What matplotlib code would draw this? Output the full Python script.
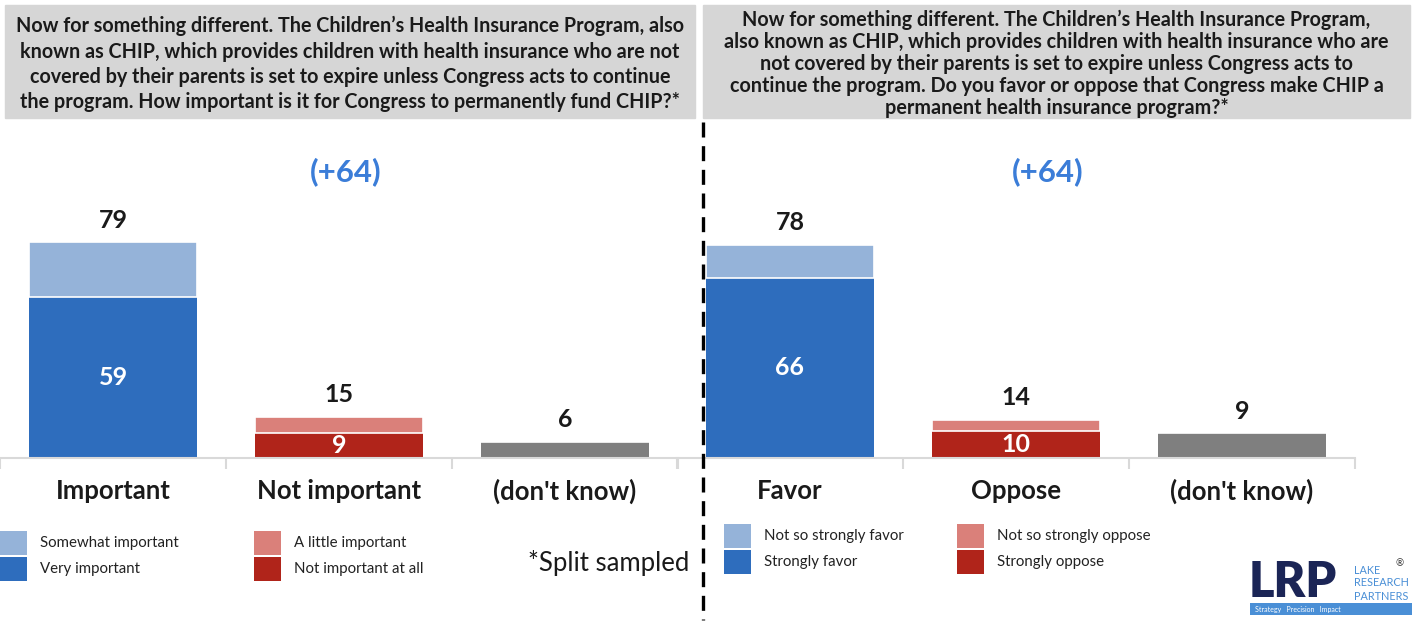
import matplotlib.pyplot as plt
from matplotlib.patches import Rectangle
from matplotlib.lines import Line2D

plt.rcParams['font.family'] = ['Lato', 'DejaVu Sans']

# data
left_categories = ['Important', 'Not important', "(don't know)"]
left_strong = [59, 9, 6]
left_total = [79, 15, 6]
left_net = '(+64)'

right_categories = ['Favor', 'Oppose', "(don't know)"]
right_strong = [66, 10, 9]
right_total = [78, 14, 9]
right_net = '(+64)'

left_question = ("Now for something different. The Children\u2019s Health Insurance Program, also\n"
                 "known as CHIP, which provides children with health insurance who are not\n"
                 "covered by their parents is set to expire unless Congress acts to continue\n"
                 "the program. How important is it for Congress to permanently fund CHIP?*")
right_question = ("Now for something different. The Children\u2019s Health Insurance Program,\n"
                  "also known as CHIP, which provides children with health insurance who are\n"
                  "not covered by their parents is set to expire unless Congress acts to\n"
                  "continue the program. Do you favor or oppose that Congress make CHIP a\n"
                  "permanent health insurance program?*")

left_legend = ['Somewhat important', 'Very important', 'A little important', 'Not important at all']
right_legend = ['Not so strongly favor', 'Strongly favor', 'Not so strongly oppose', 'Strongly oppose']

DARK_BLUE = '#2e6dbd'
LIGHT_BLUE = '#95b3d9'
DARK_RED = '#b0241a'
LIGHT_RED = '#da807a'
GRAY = '#7f7f7f'
NET_BLUE = '#3b7dd8'

W, H = 1424, 636
fig = plt.figure(figsize=(W / 100, H / 100), dpi=100)


def px(x, y):
    return x / W, 1 - y / H


def draw_panel(ax, cats, strong, total, net, net_x):
    x = range(len(cats))
    dark = [DARK_BLUE, DARK_RED, GRAY]
    light = [LIGHT_BLUE, LIGHT_RED, GRAY]
    ax.bar(x, strong, width=0.74, color=dark, linewidth=0)
    ax.bar(x, [t - s for t, s in zip(total, strong)], bottom=strong, width=0.74,
           color=light, edgecolor='white', linewidth=1.2)
    for i in x:
        ax.annotate(str(total[i]), (i, total[i]), xytext=(0, 16), textcoords='offset points',
                    ha='center', va='center', fontsize=18, fontweight='bold', color='#1a1a1a')
        if i < 2:
            ax.text(i, strong[i] / 2, str(strong[i]), ha='center', va='center',
                    fontsize=18, fontweight='bold', color='white')
    ax.text(net_x, 105, net, ha='center', va='center', fontsize=22.5, fontweight='bold',
            color=NET_BLUE, clip_on=False)
    ax.set_xlim(-0.5, 2.5)
    ax.set_ylim(0, 100)
    ax.set_xticks(list(x))
    ax.set_xticklabels(cats, fontsize=18.5, fontweight='bold', color='#1a1a1a')
    ax.tick_params(axis='x', which='major', length=0, pad=15)
    ax.set_xticks([-0.5, 0.5, 1.5, 2.5], minor=True)
    ax.tick_params(axis='x', which='minor', length=8, color='#d9d9d9', width=1.5)
    ax.set_yticks([])
    for s in ['top', 'left', 'right']:
        ax.spines[s].set_visible(False)
    ax.spines['bottom'].set_color('#d9d9d9')
    ax.spines['bottom'].set_linewidth(1.5)
    ax.patch.set_alpha(0)


ax_h = 273 / H
ax_y = (H - 458) / H
ax1 = fig.add_axes([0, ax_y, 678 / W, ax_h])
ax2 = fig.add_axes([677 / W, ax_y, 678 / W, ax_h])
draw_panel(ax1, left_categories, left_strong, left_total, left_net, 1.03)
draw_panel(ax2, right_categories, right_strong, right_total, right_net, 1.14)

# question boxes
for x0, x1, text, ls, cy in [(5, 695, left_question, 1.32, 64), (703, 1410, right_question, 1.13, 64)]:
    bx, by = px(x0, 118)
    fig.patches.append(Rectangle((bx, by), (x1 - x0) / W, 113 / H, transform=fig.transFigure,
                                 color='#d6d6d6', zorder=0))
    tx, ty = px((x0 + x1) / 2, cy)
    fig.text(tx, ty, text, ha='center', va='center', multialignment='center',
             fontsize=14.2, fontweight='bold', color='#1a1a1a', linespacing=ls)

# dashed divider
fig.add_artist(Line2D([703 / W, 703 / W], [1 - 122 / H, 1 - 620 / H], transform=fig.transFigure,
                      color='black', linewidth=2.4, dashes=(4.5, 2.6)))


# legends
def legend_block(x, y, labels, colors):
    for k, (lab, col) in enumerate(zip(labels, colors)):
        yy = y + k * 26
        rx, ry = px(x, yy + 12)
        fig.patches.append(Rectangle((rx, ry), 27 / W, 24 / H, transform=fig.transFigure,
                                     color=col, linewidth=0))
        tx, ty = px(x + 40, yy)
        fig.text(tx, ty, lab, ha='left', va='center', fontsize=10.8, color='#222222')


legend_block(0, 543, left_legend[:2], [LIGHT_BLUE, DARK_BLUE])
legend_block(254, 543, left_legend[2:], [LIGHT_RED, DARK_RED])
legend_block(724, 536, right_legend[:2], [LIGHT_BLUE, DARK_BLUE])
legend_block(957, 536, right_legend[2:], [LIGHT_RED, DARK_RED])

fig.text(*px(528, 563), '*Split sampled', ha='left', va='center', fontsize=18.5, color='#1a1a1a')

# logo
fig.text(*px(1249, 597), 'LRP', ha='left', va='baseline', fontsize=35, fontweight='heavy',
         color='#1b2556')
for k, word in enumerate(['LAKE', 'RESEARCH', 'PARTNERS']):
    fig.text(*px(1354, 570 + k * 13), word, ha='left', va='center', fontsize=7.8, color='#4a8fd6')
fig.text(*px(1396, 564), '\u00ae', ha='left', va='center', fontsize=7, color='#333333')
bx, by = px(1250, 615)
fig.patches.append(Rectangle((bx, by), 162 / W, 12 / H, transform=fig.transFigure,
                             color='#4a8fd6', linewidth=0))
fig.text(*px(1255, 609.5), 'Strategy   Precision   Impact', ha='left', va='center',
         fontsize=5, color='white')

fig.savefig('out.png', dpi=100)
